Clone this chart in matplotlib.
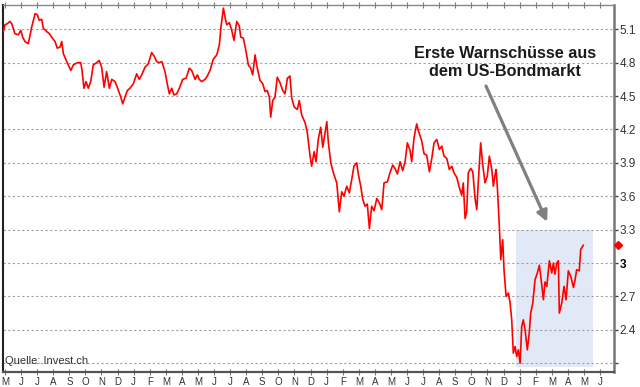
import matplotlib
matplotlib.use("Agg")
import matplotlib.pyplot as plt
from matplotlib.patches import Rectangle

plt.rcParams['font.family'] = ['Liberation Sans', 'DejaVu Sans']

# months since 1 May 2006
months = [-0.10, 0.00, 0.14, 0.31, 0.42, 0.62, 0.83, 0.98, 1.10, 1.24, 1.45, 1.66, 1.87, 2.01, 2.13,
          2.28, 2.38, 2.59, 2.76, 2.90, 3.11, 3.25, 3.42, 3.53, 3.63, 3.84, 4.09, 4.25, 4.50, 4.71,
          4.79, 4.91, 5.04, 5.18, 5.33, 5.49, 5.70, 5.86, 6.01, 6.16, 6.32, 6.49, 6.64, 6.84, 6.98,
          7.20, 7.32, 7.46, 7.61, 7.77, 7.98, 8.19, 8.35, 8.50, 8.71, 8.91, 9.12, 9.27, 9.43, 9.60,
          9.75, 9.95, 10.09, 10.22, 10.37, 10.51, 10.68, 10.84, 11.05, 11.26, 11.46, 11.61, 11.82,
          11.96, 12.08, 12.23, 12.44, 12.58, 12.75, 12.95, 13.17, 13.33, 13.43, 13.58, 13.68, 13.79,
          13.95, 14.10, 14.24, 14.41, 14.57, 14.66, 14.82, 14.99, 15.13, 15.28, 15.40, 15.55, 15.69,
          15.86, 16.03, 16.17, 16.31, 16.44, 16.52, 16.65, 16.79, 16.93, 17.10, 17.27, 17.41, 17.56,
          17.72, 17.83, 17.99, 18.18, 18.30, 18.45, 18.66, 18.80, 18.97, 19.07, 19.22, 19.34, 19.48,
          19.63, 19.76, 19.90, 20.01, 20.11, 20.26, 20.42, 20.63, 20.79, 20.94, 21.08, 21.25, 21.41,
          21.56, 21.70, 21.87, 21.97, 22.12, 22.25, 22.39, 22.53, 22.66, 22.80, 22.95, 23.12, 23.28,
          23.43, 23.57, 23.78, 23.94, 24.11, 24.25, 24.40, 24.57, 24.73, 24.88, 25.02, 25.19, 25.29,
          25.44, 25.60, 25.70, 25.91, 26.06, 26.22, 26.39, 26.54, 26.68, 26.85, 27.01, 27.16, 27.30,
          27.47, 27.63, 27.78, 27.92, 28.09, 28.25, 28.40, 28.50, 28.61, 28.71, 28.81, 28.96, 29.09,
          29.23, 29.34, 29.43, 29.58, 29.71, 29.85, 29.99, 30.12, 30.27, 30.37, 30.47, 30.54, 30.62,
          30.74, 30.83, 30.95, 31.03, 31.16, 31.30, 31.41, 31.51, 31.61, 31.72, 31.82, 31.92, 32.03,
          32.13, 32.23, 32.34, 32.48, 32.60, 32.69, 32.82, 32.96, 33.10, 33.23, 33.38, 33.48, 33.58,
          33.69, 33.85, 34.00, 34.10, 34.20, 34.31, 34.41, 34.47, 34.62, 34.76, 34.89, 35.03, 35.18,
          35.35, 35.45, 35.55, 35.71, 35.80, 35.96]

yields = [5.08, 5.14, 5.15, 5.17, 5.15, 5.06, 5.05, 5.09, 5.03, 4.99, 4.97, 5.12, 5.24, 5.23, 5.18,
          5.19, 5.11, 5.08, 5.06, 5.03, 4.99, 4.93, 4.94, 4.99, 4.88, 4.81, 4.73, 4.78, 4.80, 4.80,
          4.73, 4.57, 4.63, 4.57, 4.63, 4.78, 4.80, 4.82, 4.76, 4.58, 4.72, 4.57, 4.65, 4.63, 4.58,
          4.49, 4.43, 4.49, 4.55, 4.57, 4.61, 4.70, 4.65, 4.69, 4.76, 4.79, 4.89, 4.86, 4.81, 4.80,
          4.81, 4.72, 4.61, 4.52, 4.57, 4.51, 4.52, 4.57, 4.65, 4.66, 4.75, 4.73, 4.65,
          4.69, 4.65, 4.63, 4.65, 4.68, 4.73, 4.83, 4.87, 4.96, 5.12, 5.29, 5.21, 5.14,
          5.16, 5.09, 5.00, 5.17, 5.13, 5.03, 5.02, 4.90, 4.78, 4.75, 4.69, 4.87, 4.75,
          4.64, 4.61, 4.54, 4.55, 4.49, 4.31, 4.46, 4.49, 4.67, 4.62, 4.55, 4.52, 4.66,
          4.68, 4.48, 4.40, 4.38, 4.46, 4.33, 4.26, 4.17, 3.96, 3.87, 4.00, 3.91, 4.11,
          4.22, 4.04, 4.17, 4.27, 4.08, 3.90, 3.81, 3.72, 3.46, 3.64, 3.60, 3.69, 3.63,
          3.75, 3.87, 3.90, 3.80, 3.69, 3.57, 3.51, 3.53, 3.31, 3.51, 3.47, 3.58, 3.54,
          3.48, 3.72, 3.73, 3.81, 3.88, 3.85, 3.80, 3.91, 3.83, 3.91, 4.08, 4.01, 3.91,
          4.13, 4.25, 4.19, 4.10, 3.98, 3.97, 3.82, 3.94, 4.08, 4.11, 4.02, 4.05, 3.96,
          3.94, 3.84, 3.87, 3.81, 3.77, 3.68, 3.61, 3.72, 3.40, 3.46, 3.81, 3.85, 3.82,
          3.58, 3.48, 3.73, 4.08, 3.88, 3.72, 3.78, 3.96, 3.84, 3.69, 3.79, 3.84, 3.67,
          3.33, 3.03, 3.21, 2.94, 2.70, 2.73, 2.64, 2.49, 2.19, 2.25, 2.16, 2.22, 2.10,
          2.43, 2.49, 2.40, 2.22, 2.37, 2.55, 2.64, 2.85, 2.91, 2.98, 2.80, 2.67, 2.83,
          2.79, 3.02, 2.91, 3.00, 2.90, 3.00, 3.02, 2.55, 2.64, 2.79, 2.67, 2.93, 2.88,
          2.78, 2.85, 2.94, 2.93, 3.12, 3.16]

month_labels = ['M', 'J', 'J', 'A', 'S', 'O', 'N', 'D',
                'J', 'F', 'M', 'A', 'M', 'J', 'J', 'A', 'S', 'O', 'N', 'D',
                'J', 'F', 'M', 'A', 'M', 'J', 'J', 'A', 'S', 'O', 'N', 'D',
                'J', 'F', 'M', 'A', 'M', 'J']
y_ticks = [2.1, 2.4, 2.7, 3.0, 3.3, 3.6, 3.9, 4.2, 4.5, 4.8, 5.1]
y_labels = ['', '2.4', '2.7', '3', '3.3', '3.6', '3.9', '4.2', '4.5', '4.8', '5.1']

box_x = (31.78, 36.55)
box_y = (2.07, 3.30)
note = "Erste Warnschüsse aus\ndem US-Bondmarkt"
source = "Quelle: Invest.ch"

fig = plt.figure(figsize=(6.4, 3.87), dpi=100)
ax = fig.add_axes([3/640, 1 - 372/387, 611/640, 367/387])

ax.set_xlim(-0.124, 37.87)
ax.set_ylim(2.021, 5.318)

ax.add_patch(Rectangle((box_x[0], box_y[0]), box_x[1] - box_x[0], box_y[1] - box_y[0],
                       facecolor='#e2e9f6', edgecolor='none', zorder=0.2))

ax.set_yticks(y_ticks)
ax.yaxis.grid(True, color='#a0a0a0', linestyle=(0, (2.0, 2.2)), linewidth=0.8, zorder=0.5)
ax.set_axisbelow(True)

ax.plot(months, yields, color='#ff0000', linewidth=1.2, zorder=3)
ax.plot([38.12], [yields[-1]], marker='D', color='#ff0000', markersize=4.5,
        clip_on=False, zorder=5)

ax.yaxis.tick_right()
ax.set_yticklabels(y_labels)
for lab in ax.get_yticklabels():
    lab.set_fontsize(8.5)
    lab.set_color('#333333')
    if lab.get_text() == '3':
        lab.set_fontweight('bold')
        lab.set_color('#000000')
ax.tick_params(axis='y', which='both', right=True, left=False, length=3, width=1,
               color='#444444', pad=1)

ax.set_xticks(range(len(month_labels)))
ax.set_xticklabels(month_labels)
ax.tick_params(axis='x', which='both', bottom=True, top=True, direction='inout', length=5,
               width=0.8, color='#777777', labelsize=7, labelcolor='#333333', pad=1)

for side, col, lw in [('left', '#222222', 1.5), ('bottom', '#555555', 1.6),
                      ('right', '#777777', 1.8), ('top', '#888888', 1.0)]:
    ax.spines[side].set_color(col)
    ax.spines[side].set_linewidth(lw)

ax.text(31.1, 4.80, note, ha='center', va='center', fontsize=11.7, fontweight='bold',
        color='#1a1a1a', linespacing=1.3, zorder=6)

ax.annotate('', xy=(33.71, 3.37), xytext=(29.91, 4.59),
            arrowprops=dict(arrowstyle='-|>', color='#808080', lw=2.3,
                            mutation_scale=16, shrinkA=0, shrinkB=0), zorder=6)

ax.text(0.004, 2.12, source, transform=ax.get_yaxis_transform(), ha='left', va='center',
        fontsize=8, color='#333333')

fig.savefig('out.png', dpi=100)
